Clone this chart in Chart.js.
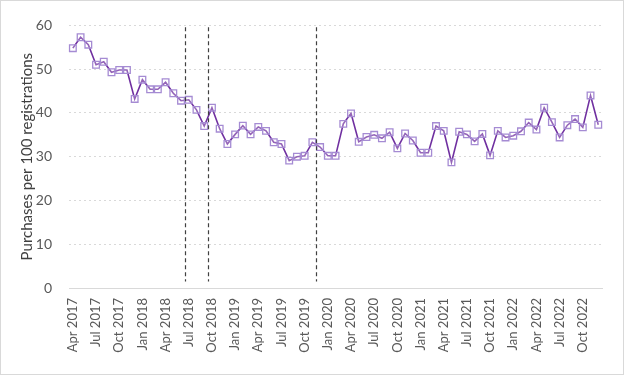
<!DOCTYPE html>
<html>
<head>
<meta charset="utf-8">
<script src="https://cdn.jsdelivr.net/npm/chart.js@4.4.1/dist/chart.umd.min.js"></script>
<style>
    body { margin: 0; background: #ffffff; }
    #caixaGrafico { width: 624px; height: 375px; }
</style>
</head>
<body>
<div id="caixaGrafico"><canvas id="myChartCanvas"></canvas></div>
<script>
// meses (um ponto por mes)
const meses = [
    'Apr 2017', 'May 2017', 'Jun 2017', 'Jul 2017', 'Aug 2017', 'Sep 2017', 'Oct 2017', 'Nov 2017', 'Dec 2017',
    'Jan 2018', 'Feb 2018', 'Mar 2018', 'Apr 2018', 'May 2018', 'Jun 2018', 'Jul 2018', 'Aug 2018', 'Sep 2018',
    'Oct 2018', 'Nov 2018', 'Dec 2018', 'Jan 2019', 'Feb 2019', 'Mar 2019', 'Apr 2019', 'May 2019', 'Jun 2019',
    'Jul 2019', 'Aug 2019', 'Sep 2019', 'Oct 2019', 'Nov 2019', 'Dec 2019', 'Jan 2020', 'Feb 2020', 'Mar 2020',
    'Apr 2020', 'May 2020', 'Jun 2020', 'Jul 2020', 'Aug 2020', 'Sep 2020', 'Oct 2020', 'Nov 2020', 'Dec 2020',
    'Jan 2021', 'Feb 2021', 'Mar 2021', 'Apr 2021', 'May 2021', 'Jun 2021', 'Jul 2021', 'Aug 2021', 'Sep 2021',
    'Oct 2021', 'Nov 2021', 'Dec 2021', 'Jan 2022', 'Feb 2022', 'Mar 2022', 'Apr 2022', 'May 2022', 'Jun 2022',
    'Jul 2022', 'Aug 2022', 'Sep 2022', 'Oct 2022', 'Nov 2022', 'Dec 2022'
];

// compras por 100 registros
const compras = [
    54.8, 57.3, 55.6, 51.0, 51.7, 49.3, 49.8, 49.8, 43.2,
    47.6, 45.4, 45.4, 47.0, 44.5, 42.8, 43.0, 40.7, 37.0,
    41.2, 36.4, 32.9, 35.1, 37.1, 35.1, 36.8, 35.9, 33.3,
    32.9, 29.1, 30.0, 30.2, 33.3, 32.2, 30.2, 30.2, 37.5,
    39.9, 33.4, 34.5, 35.0, 34.2, 35.6, 31.9, 35.3, 33.7,
    30.9, 30.9, 37.0, 35.9, 28.7, 35.7, 35.1, 33.5, 35.2,
    30.3, 35.9, 34.4, 34.8, 35.8, 37.8, 36.2, 41.2, 37.9,
    34.4, 37.2, 38.6, 36.7, 44.0, 37.3
];

// linhas tracejadas verticais (entre meses, em indice de categoria)
const eventos = [14.5, 17.5, 31.5];
const alturaEventos = [1.5, 59.6];

const ticksY = [0, 10, 20, 30, 40, 50, 60];

const fonte = 'Lato, "Open Sans", sans-serif';

// desenha a borda cinza e as linhas tracejadas
const pluginExtras = {
    id: 'extras',
    beforeDraw(chart) {
        const ctx = chart.ctx;
        ctx.save();
        ctx.fillStyle = '#ffffff';
        ctx.fillRect(0, 0, chart.width, chart.height);
        ctx.restore();
    },
    afterDatasetsDraw(chart) {
        const ctx = chart.ctx;
        const x = chart.scales.x;
        const y = chart.scales.y;
        ctx.save();
        ctx.strokeStyle = '#404040';
        ctx.lineWidth = 1.2;
        ctx.setLineDash([4, 3]);
        eventos.forEach(e => {
            const px = Math.round(x.getPixelForValue(e)) + 0.5;
            ctx.beginPath();
            ctx.moveTo(px, y.getPixelForValue(alturaEventos[1]));
            ctx.lineTo(px, y.getPixelForValue(alturaEventos[0]));
            ctx.stroke();
        });
        ctx.restore();
    },
    afterDraw(chart) {
        const ctx = chart.ctx;
        ctx.save();
        ctx.strokeStyle = '#d9d9d9';
        ctx.lineWidth = 1;
        ctx.strokeRect(0.5, 0.5, chart.width - 1, chart.height - 1);
        ctx.restore();
    }
};

let dados = {
    labels: meses,
    datasets: [{
        label: 'Purchases per 100 registrations',
        data: compras,
        borderColor: '#7030a0',
        borderWidth: 1.6,
        tension: 0,
        pointStyle: 'rect',
        pointRadius: 4.7,
        pointBorderColor: '#a58bd3',
        pointBorderWidth: 1.3,
        pointBackgroundColor: 'rgba(255,255,255,0.25)'
    }]
};

let opcoes = {
    responsive: true,
    maintainAspectRatio: false,
    animation: false,
    events: [],
    layout: {
        padding: { top: 17, right: 20, left: 0, bottom: 0 }
    },
    plugins: {
        legend: { display: false },
        tooltip: { enabled: false }
    },
    scales: {
        x: {
            offset: true,
            grid: { display: false, drawTicks: false },
            border: { display: true, color: '#d9d9d9', width: 1 },
            afterFit(scale) { scale.height = 87; },
            ticks: {
                autoSkip: false,
                maxRotation: 90,
                minRotation: 90,
                padding: 10,
                color: '#595959',
                font: { family: fonte, size: 13 },
                callback: function (valor, indice) {
                    return indice % 3 === 0 ? meses[indice] : '';
                }
            }
        },
        y: {
            min: 0,
            max: 60,
            afterFit(scale) { scale.width = 69; },
            afterBuildTicks(scale) {
                scale.ticks = ticksY.map(v => ({ value: v }));
            },
            grid: {
                color: '#d9d9d9',
                lineWidth: 1,
                drawTicks: false
            },
            border: { display: false, dash: [2, 3] },
            ticks: {
                padding: 17,
                color: '#595959',
                font: { family: fonte, size: 14 }
            },
            title: {
                display: true,
                text: 'Purchases per 100 registrations',
                color: '#404040',
                padding: { top: 18, bottom: 0 },
                font: { family: fonte, size: 15 }
            }
        }
    }
};

const config = {
    type: 'line',
    data: dados,
    options: opcoes,
    plugins: [pluginExtras]
};

let myChart = new Chart(document.getElementById('myChartCanvas'), config);
</script>
</body>
</html>
